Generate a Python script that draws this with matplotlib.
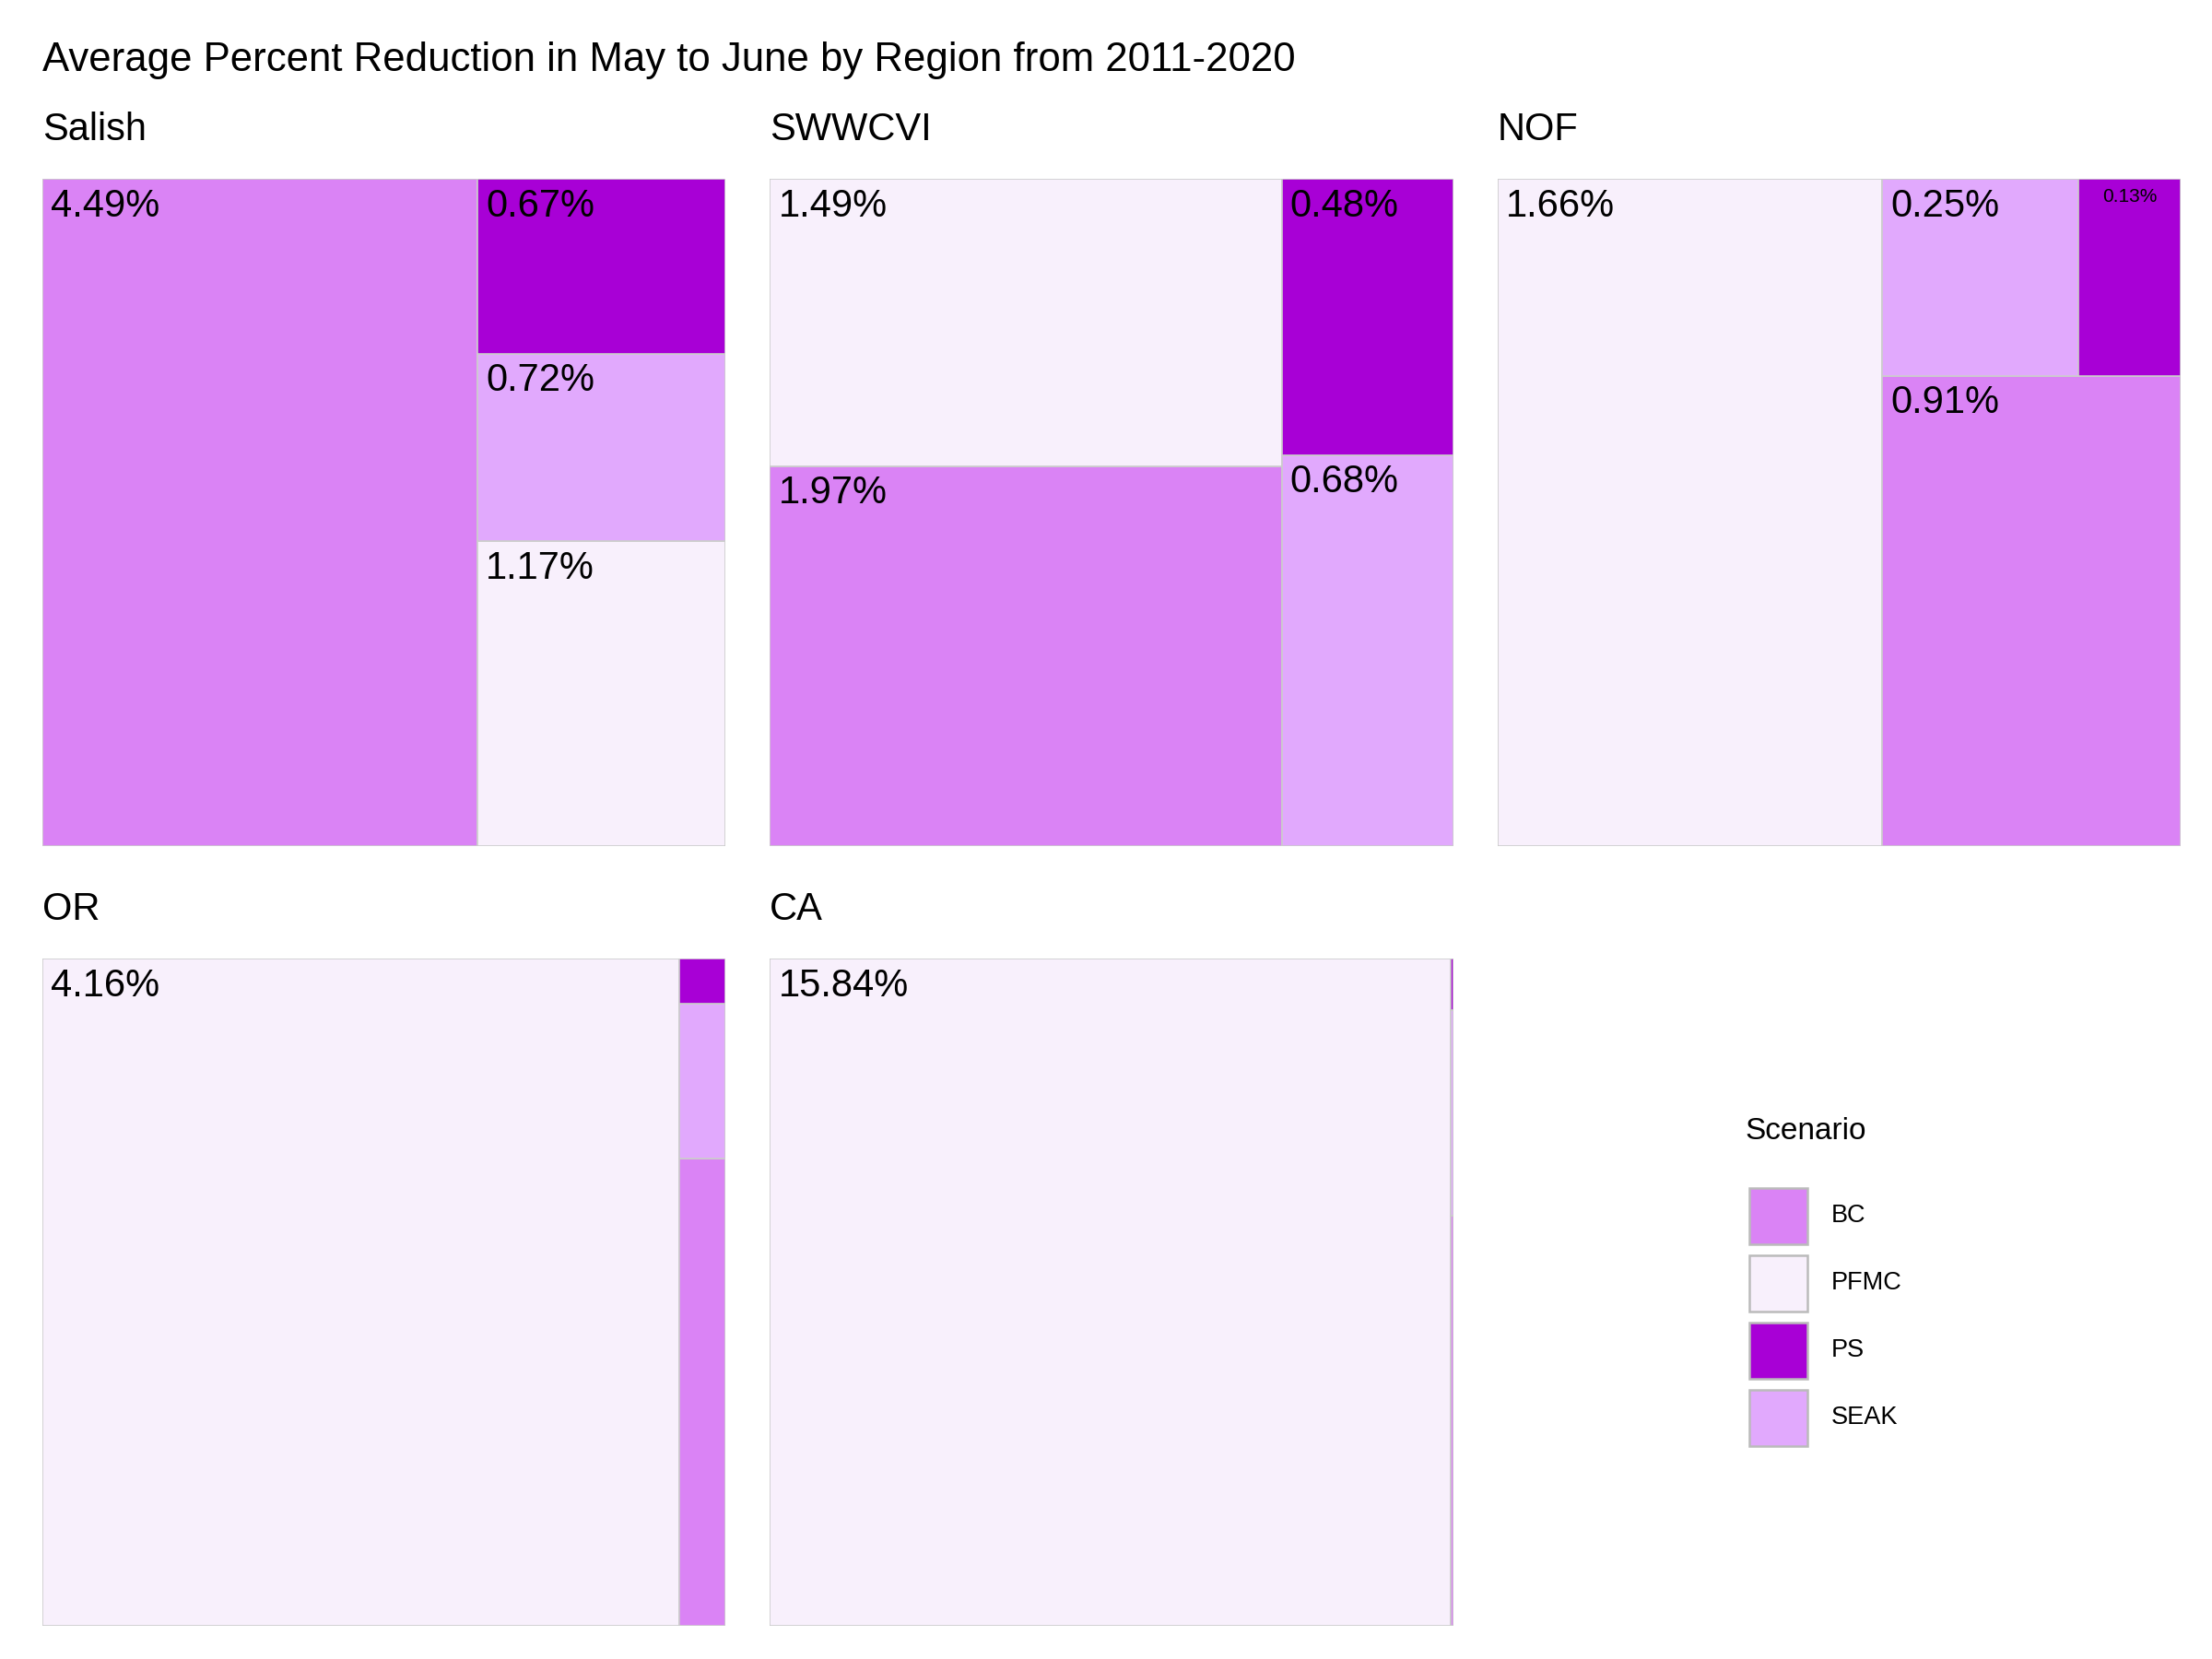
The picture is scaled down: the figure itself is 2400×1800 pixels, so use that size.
import matplotlib
matplotlib.use('Agg')
import matplotlib.pyplot as plt
from matplotlib.patches import Rectangle

plt.rcParams['font.family'] = ['Liberation Sans', 'DejaVu Sans']

scenarios = ['BC', 'PFMC', 'PS', 'SEAK']
colors = {'BC': '#DA83F5', 'PFMC': '#F8F0FC', 'PS': '#A800D6', 'SEAK': '#E1A9FD'}

regions = ['Salish', 'SWWCVI', 'NOF', 'OR', 'CA']
salish = [4.49, 1.17, 0.67, 0.72]
swwcvi = [1.97, 1.49, 0.48, 0.68]
nof = [0.91, 1.66, 0.13, 0.25]
oregon = [0.21, 4.16, 0.02, 0.07]
cal = [0.04, 15.84, 0.005, 0.02]
region_vals = [salish, swwcvi, nof, oregon, cal]


def worst(row, side):
    s = sum(a for _, a in row)
    return max(max(side * side * a / (s * s), (s * s) / (side * side * a)) for _, a in row)


def squarify(items, x, y, w, h):
    # items: list of (name, area) sorted descending; origin bottom-left
    out = []
    items = list(items)
    while items:
        side = min(w, h)
        row = [items.pop(0)]
        while items and worst(row + [items[0]], side) <= worst(row, side):
            row.append(items.pop(0))
        s = sum(a for _, a in row)
        if w >= h:
            rw = s / h
            yy = y
            for n, a in row:
                hh = a / rw
                out.append((n, a, x, yy, rw, hh))
                yy += hh
            x += rw
            w -= rw
        else:
            rh = s / w
            xx = x
            for n, a in row:
                ww = a / rh
                out.append((n, a, xx, y, ww, rh))
                xx += ww
            y += rh
            h -= rh
    return out


fig = plt.figure(figsize=(16, 12), dpi=150)
fig.text(0.019, 0.975, 'Average Percent Reduction in May to June by Region from 2011-2020',
         fontsize=21, va='top', ha='left')

xs = [0.019, 0.348, 0.677]
pw, ph = 0.309, 0.402
tops = [0.892, 0.422]
PW, PH = 482.0, 470.0

for i, (reg, vals) in enumerate(zip(regions, region_vals)):
    col, r = i % 3, i // 3
    ax = fig.add_axes([xs[col], tops[r] - ph, pw, ph])
    ax.set_xlim(0, PW)
    ax.set_ylim(0, PH)
    ax.axis('off')
    ax.text(0, PH + 22, reg, fontsize=20, va='bottom', ha='left')
    total = sum(vals)
    items = sorted(zip(scenarios, vals), key=lambda t: -t[1])
    items = [(n, v / total * PW * PH) for n, v in items]
    val_of = dict(zip(scenarios, vals))
    for n, a, x, y, w, h in squarify(items, 0, 0, PW, PH):
        ax.add_patch(Rectangle((x, y), w, h, facecolor=colors[n], edgecolor='#cccccc', lw=0.8))
        if w >= 100 and h >= 60:
            ax.text(x + 6, y + h - 6, f'{val_of[n]:.2f}%', fontsize=20, va='top', ha='left')
        elif w >= 50 and h >= 40:
            ax.text(x + w / 2, y + h - 6, f'{val_of[n]:.2f}%', fontsize=10, va='top', ha='center')

# legend
fig.text(0.789, 0.318, 'Scenario', fontsize=16, va='center', ha='left')
for k, n in enumerate(scenarios):
    yk = 0.267 - k * 0.0405
    fig.add_artist(Rectangle((0.791, yk - 0.017), 0.026, 0.034, transform=fig.transFigure,
                             facecolor=colors[n], edgecolor='#bbbbbb', lw=1.2))
    fig.text(0.828, yk - 0.017 + 0.017, n, fontsize=13, va='center', ha='left')

fig.savefig('out.png', dpi=150)
